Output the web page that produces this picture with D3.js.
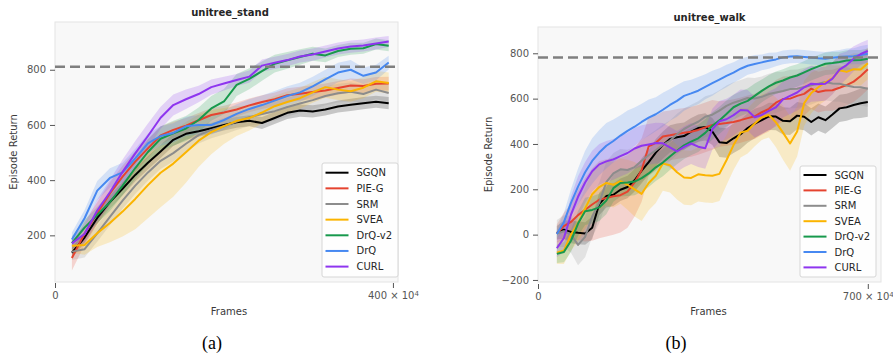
<!DOCTYPE html>
<html>
<head>
<meta charset="utf-8">
<script src="https://cdn.jsdelivr.net/npm/d3@7"></script>
<style>
  body { margin: 0; background: #fff; }
  text { font-family: "DejaVu Sans", sans-serif; }
  text.caption { font-family: "Liberation Serif", "Times New Roman", serif; }
</style>
</head>
<body>
<script>
// methods, in legend / draw order
var names = ["SGQN", "PIE-G", "SRM", "SVEA", "DrQ-v2", "DrQ", "CURL"];
var colors = ["#000000", "#e5432f", "#8c8c8c", "#fbb400", "#17994c", "#4688f1", "#8e35ef"];

// ---- unitree_stand (frames in 1e4) ----
var standFrames = [20, 35, 50, 65, 80, 95, 110, 125, 140, 155, 170, 185, 200, 215, 230, 245, 260, 275, 290, 305, 320, 335, 350, 365, 380, 395];
var standSGQN  = [137, 192, 263, 321, 369, 419, 463, 504, 546, 568, 577, 588, 600, 610, 615, 607, 625, 644, 652, 649, 656, 667, 673, 679, 684, 679];
var standPIEG  = [118, 207, 280, 352, 413, 467, 515, 562, 582, 597, 617, 636, 645, 656, 671, 683, 693, 708, 713, 719, 725, 734, 743, 741, 749, 750];
var standSRM   = [141, 150, 207, 267, 326, 380, 428, 470, 498, 532, 563, 582, 595, 612, 628, 640, 650, 665, 678, 690, 705, 715, 720, 712, 728, 716];
var standSVEA  = [162, 165, 208, 245, 286, 332, 382, 427, 460, 501, 543, 574, 596, 615, 625, 645, 668, 683, 697, 718, 737, 728, 722, 735, 758, 752];
var standDrQv2 = [172, 228, 274, 320, 380, 444, 502, 550, 570, 587, 618, 660, 685, 745, 767, 795, 822, 834, 846, 858, 852, 868, 876, 878, 893, 887];
var standDrQ   = [185, 262, 362, 408, 428, 479, 533, 560, 571, 595, 600, 600, 618, 640, 658, 672, 688, 705, 718, 740, 765, 790, 800, 778, 790, 826];
var standCURL  = [171, 205, 290, 356, 430, 497, 560, 626, 672, 693, 712, 737, 750, 763, 775, 815, 825, 835, 848, 855, 866, 877, 884, 888, 895, 902];
// std bands
var standSGQNsd  = [18, 20, 22, 24, 24, 24, 24, 24, 22, 22, 20, 20, 20, 20, 20, 22, 22, 22, 22, 22, 22, 22, 22, 22, 22, 22];
var standPIEGsd  = [45, 42, 40, 40, 40, 38, 35, 32, 30, 28, 26, 25, 25, 25, 25, 25, 25, 25, 25, 25, 25, 25, 25, 25, 25, 25];
var standSRMsd   = [30, 30, 30, 30, 30, 30, 30, 30, 30, 30, 30, 30, 30, 30, 32, 34, 34, 34, 34, 34, 34, 34, 34, 34, 34, 34];
var standSVEAsd  = [25, 35, 50, 70, 90, 110, 120, 125, 120, 110, 95, 80, 65, 55, 45, 40, 38, 38, 38, 38, 38, 38, 38, 38, 38, 38];
var standDrQv2sd = [25, 28, 30, 32, 35, 40, 45, 45, 45, 45, 45, 45, 45, 40, 38, 35, 32, 30, 28, 25, 25, 22, 22, 20, 20, 20];
var standDrQsd   = [25, 30, 35, 35, 35, 35, 35, 35, 35, 35, 35, 35, 35, 35, 35, 35, 35, 35, 35, 35, 35, 35, 35, 30, 28, 25];
var standCURLsd  = [20, 30, 40, 45, 45, 45, 45, 40, 38, 35, 30, 28, 25, 22, 22, 22, 22, 22, 22, 22, 22, 22, 22, 22, 22, 20];

// ---- unitree_walk ----
var walkFrames = [40, 55, 70, 85, 100, 115, 130, 145, 160, 175, 190, 205, 220, 235, 250, 265, 280, 295, 310, 325, 340, 355, 370, 385, 400, 415, 430, 445, 460, 475, 490, 505, 520, 535, 550, 565, 580, 595, 610, 625, 640, 655, 670, 685, 700];
var walkSGQN  = [8, 22, 12, 8, 5, 30, 135, 170, 176, 198, 210, 240, 282, 320, 362, 395, 422, 430, 435, 454, 470, 475, 455, 408, 404, 425, 443, 470, 490, 505, 522, 521, 502, 500, 525, 520, 497, 518, 505, 530, 557, 562, 572, 580, 585];
var walkPIEG  = [5, 38, 56, 86, 110, 133, 154, 162, 169, 174, 190, 230, 285, 390, 405, 433, 438, 444, 449, 454, 462, 473, 484, 488, 492, 497, 505, 514, 522, 540, 555, 582, 598, 600, 612, 621, 644, 629, 636, 637, 648, 660, 675, 700, 730];
var walkSRM   = [5, 15, 0, -45, -10, 80, 140, 232, 270, 288, 285, 298, 326, 350, 372, 396, 414, 443, 466, 483, 498, 520, 529, 547, 568, 582, 592, 603, 601, 608, 620, 627, 634, 642, 644, 651, 659, 666, 673, 667, 666, 658, 651, 650, 644];
var walkSVEA  = [-80, -70, 0, 50, 115, 178, 210, 228, 220, 236, 220, 200, 180, 228, 260, 314, 306, 275, 252, 250, 266, 262, 260, 268, 328, 395, 450, 458, 490, 518, 528, 495, 450, 402, 455, 580, 625, 650, 672, 690, 725, 718, 730, 728, 756];
var walkDrQv2 = [-85, -77, -27, 49, 103, 109, 120, 150, 205, 228, 230, 234, 249, 270, 297, 318, 345, 370, 394, 410, 425, 449, 480, 504, 532, 562, 578, 590, 612, 634, 654, 670, 680, 693, 702, 716, 730, 742, 754, 757, 762, 768, 769, 770, 776];
var walkDrQ   = [3, 55, 140, 212, 275, 325, 362, 392, 413, 437, 458, 476, 497, 516, 531, 551, 572, 590, 612, 623, 635, 652, 668, 684, 700, 715, 732, 745, 753, 760, 767, 773, 782, 786, 787, 784, 781, 778, 776, 780, 784, 786, 787, 792, 798];
var walkCURL  = [-60, -15, 88, 167, 230, 280, 310, 323, 332, 346, 360, 380, 392, 398, 404, 403, 385, 367, 387, 402, 388, 381, 465, 500, 509, 527, 550, 548, 518, 528, 546, 562, 597, 612, 627, 650, 666, 663, 666, 688, 728, 748, 776, 797, 810];
// std bands
var walkSGQNsd  = [30, 40, 50, 50, 50, 50, 50, 50, 50, 50, 50, 50, 55, 55, 60, 60, 60, 60, 60, 60, 60, 60, 60, 65, 65, 65, 65, 65, 65, 60, 60, 60, 60, 60, 60, 60, 60, 60, 60, 60, 60, 60, 60, 65, 65];
var walkPIEGsd  = [40, 60, 80, 110, 140, 160, 170, 170, 170, 165, 160, 150, 140, 130, 120, 110, 110, 110, 110, 110, 110, 110, 110, 100, 100, 100, 100, 100, 100, 100, 100, 100, 100, 100, 95, 95, 90, 90, 90, 90, 90, 90, 90, 90, 90];
var walkSRMsd   = [60, 70, 80, 90, 90, 90, 90, 90, 90, 90, 90, 90, 90, 90, 90, 90, 90, 90, 90, 90, 90, 90, 90, 90, 90, 90, 90, 90, 90, 90, 90, 90, 85, 85, 85, 85, 85, 80, 80, 80, 80, 80, 80, 80, 80];
var walkSVEAsd  = [50, 60, 70, 80, 90, 100, 100, 100, 100, 100, 110, 120, 120, 120, 120, 120, 120, 120, 120, 120, 120, 120, 120, 120, 110, 110, 110, 100, 100, 100, 100, 110, 120, 120, 110, 100, 90, 80, 80, 70, 70, 70, 70, 70, 70];
var walkDrQv2sd = [40, 45, 50, 55, 60, 60, 60, 60, 60, 60, 60, 60, 60, 60, 60, 60, 60, 60, 60, 60, 60, 60, 60, 60, 60, 55, 55, 55, 55, 50, 50, 50, 50, 50, 50, 50, 50, 50, 50, 50, 45, 45, 45, 45, 45];
var walkDrQsd   = [20, 40, 60, 80, 95, 100, 100, 100, 95, 90, 90, 85, 80, 80, 75, 75, 70, 70, 65, 60, 60, 55, 55, 50, 50, 45, 45, 40, 40, 35, 35, 30, 30, 30, 30, 30, 30, 30, 30, 30, 30, 35, 35, 40, 40];
var walkCURLsd  = [40, 60, 80, 90, 90, 90, 90, 90, 90, 90, 90, 90, 90, 90, 90, 90, 90, 90, 90, 90, 90, 90, 90, 90, 90, 90, 90, 90, 90, 85, 85, 85, 80, 80, 80, 80, 80, 75, 75, 70, 70, 60, 55, 50, 50];

var width = 893, height = 364;

var svg = d3.select("body").append("svg")
  .attr("width", width)
  .attr("height", height);

// one panel = one subplot
function drawPanel(p) {
  var x = d3.scaleLinear().domain([0, p.xMax]).range([p.left, p.right]);
  var y = d3.scaleLinear().domain([p.yMin, p.yMax]).range([p.bottom, p.top]);

  svg.append("rect")
    .attr("x", p.left).attr("y", p.top)
    .attr("width", p.right - p.left).attr("height", p.bottom - p.top)
    .attr("fill", "#f8f8f8").attr("stroke", "#e4e4e4");

  svg.append("clipPath").attr("id", p.id)
    .append("rect")
    .attr("x", p.left).attr("y", p.top)
    .attr("width", p.right - p.left).attr("height", p.bottom - p.top);

  var g = svg.append("g").attr("clip-path", "url(#" + p.id + ")");

  // shaded std bands
  p.means.forEach(function (m, i) {
    var sd = p.sds[i];
    var area = d3.area()
      .x(function (d, j) { return x(p.frames[j]); })
      .y0(function (d, j) { return y(d - sd[j]); })
      .y1(function (d, j) { return y(d + sd[j]); });
    g.append("path").datum(m)
      .attr("d", area)
      .attr("fill", colors[i])
      .attr("fill-opacity", 0.2);
  });

  // mean lines
  p.means.forEach(function (m, i) {
    var line = d3.line()
      .x(function (d, j) { return x(p.frames[j]); })
      .y(function (d) { return y(d); });
    g.append("path").datum(m)
      .attr("d", line)
      .attr("fill", "none")
      .attr("stroke", colors[i])
      .attr("stroke-width", 2)
      .attr("stroke-linejoin", "round");
  });

  // dashed reference
  svg.append("line")
    .attr("x1", p.left).attr("x2", p.right)
    .attr("y1", y(p.dashed)).attr("y2", y(p.dashed))
    .attr("stroke", "#7f7f7f").attr("stroke-width", 2.5)
    .attr("stroke-dasharray", "10,5");

  // y axis
  var ya = svg.append("g")
    .attr("transform", "translate(" + p.left + ",0)")
    .call(d3.axisLeft(y).tickValues(p.yTicks).tickSize(5).tickPadding(4)
      .tickFormat(function (d) { return d < 0 ? "\u2212" + Math.abs(d) : d; }));
  ya.select(".domain").remove();

  // x axis
  var xa = svg.append("g")
    .attr("transform", "translate(0," + p.axisY + ")")
    .call(d3.axisBottom(x).tickValues(p.xTicks).tickSize(5).tickPadding(4));
  xa.select(".domain").remove();
  xa.selectAll(".tick text").each(function (d) {
    if (d > 0) {
      d3.select(this).text(d + " \u00d7 10")
        .append("tspan").attr("dy", "-0.45em").attr("font-size", "7px").text("4");
    }
  });

  [ya, xa].forEach(function (a) {
    a.selectAll(".tick line").attr("stroke", "#555");
    a.selectAll(".tick text").attr("fill", "#555").attr("font-size", "10px");
  });

  // labels
  svg.append("text")
    .attr("x", p.titleX).attr("y", p.titleY)
    .attr("text-anchor", "middle")
    .attr("font-size", "10px").attr("font-weight", "bold").attr("fill", "#262626")
    .text(p.title);

  svg.append("text")
    .attr("x", p.titleX - 1).attr("y", 314.5)
    .attr("text-anchor", "middle")
    .attr("font-size", "10px").attr("fill", "#3a3a3a")
    .text("Frames");

  svg.append("text")
    .attr("transform", "translate(" + p.ylabX + "," + (p.top + p.bottom) / 2 + ") rotate(-90)")
    .attr("text-anchor", "middle")
    .attr("font-size", "10px").attr("fill", "#3a3a3a")
    .text("Episode Return");

  // legend
  var lg = svg.append("g").attr("transform", "translate(" + p.legX + "," + p.legY + ")");
  lg.append("rect")
    .attr("width", 76).attr("height", p.legH).attr("rx", 2)
    .attr("fill", "#ffffff").attr("fill-opacity", 0.85)
    .attr("stroke", "#d6d6d6");
  names.forEach(function (n, i) {
    var cy = p.legFirst + i * p.legStep;
    lg.append("line")
      .attr("x1", 3.5).attr("x2", 26.5).attr("y1", cy).attr("y2", cy)
      .attr("stroke", colors[i]).attr("stroke-width", 2);
    lg.append("text")
      .attr("x", 34.5).attr("y", cy).attr("dy", "0.35em")
      .attr("font-size", "10px").attr("fill", "#262626")
      .text(n);
  });
}

drawPanel({
  id: "clipA", title: "unitree_stand", titleX: 230, titleY: 16,
  left: 55, right: 398, top: 22, bottom: 282, axisY: 283, ylabX: 17,
  xMax: 406, yMin: 31, yMax: 973,
  xTicks: [0, 400], yTicks: [200, 400, 600, 800], dashed: 811,
  frames: standFrames,
  means: [standSGQN, standPIEG, standSRM, standSVEA, standDrQv2, standDrQ, standCURL],
  sds: [standSGQNsd, standPIEGsd, standSRMsd, standSVEAsd, standDrQv2sd, standDrQsd, standCURLsd],
  legX: 322, legY: 163, legH: 114, legFirst: 9.7, legStep: 15.65
});

drawPanel({
  id: "clipB", title: "unitree_walk", titleX: 709.5, titleY: 21,
  left: 538, right: 881, top: 27, bottom: 282, axisY: 284, ylabX: 492,
  xMax: 728, yMin: -209, yMax: 916,
  xTicks: [0, 700], yTicks: [-200, 0, 200, 400, 600, 800], dashed: 781,
  frames: walkFrames,
  means: [walkSGQN, walkPIEG, walkSRM, walkSVEA, walkDrQv2, walkDrQ, walkCURL],
  sds: [walkSGQNsd, walkPIEGsd, walkSRMsd, walkSVEAsd, walkDrQv2sd, walkDrQsd, walkCURLsd],
  legX: 800, legY: 166, legH: 111, legFirst: 9, legStep: 15.4
});

// sub-figure captions
svg.append("text").attr("class", "caption").attr("x", 212).attr("y", 349)
  .attr("text-anchor", "middle").attr("font-size", "18px").attr("fill", "#000")
  .text("(a)");
svg.append("text").attr("class", "caption").attr("x", 676).attr("y", 349)
  .attr("text-anchor", "middle").attr("font-size", "18px").attr("fill", "#000")
  .text("(b)");
</script>
</body>
</html>
